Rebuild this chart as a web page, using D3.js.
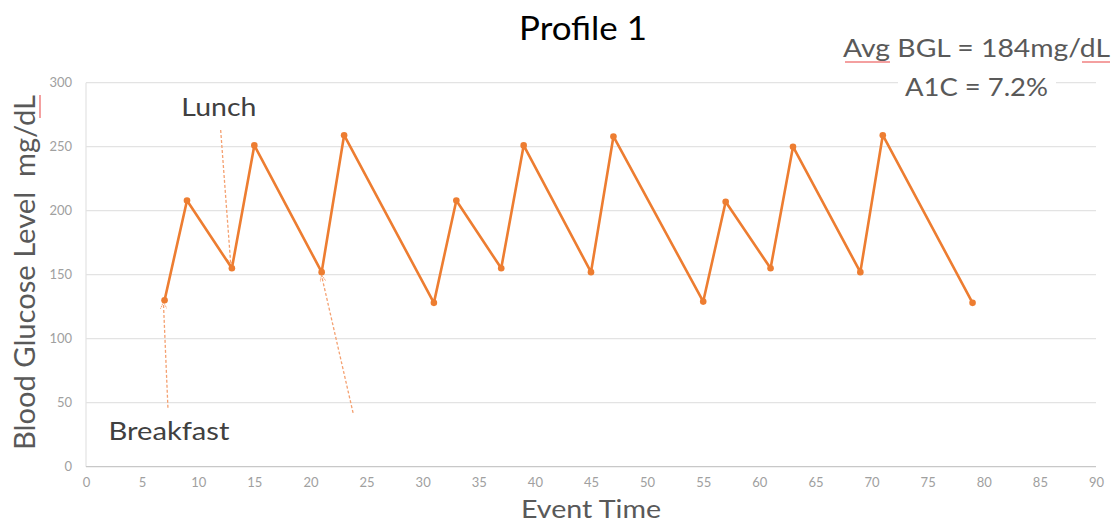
<!DOCTYPE html>
<html><head><meta charset="utf-8">
<script src="https://cdn.jsdelivr.net/npm/d3@7"></script>
<style>body{margin:0;background:#fff}svg{display:block}text{font-family:Lato,"Open Sans",sans-serif}</style>
</head><body><svg id="c" width="1115" height="522"></svg>
<script>
const eventTimes = [7,9,13,15,21,23,31,33,37,39,45,47,55,57,61,63,69,71,79];
const glucose = [130,208,155,251,152,259,128,208,155,251,152,258,129,207,155,250,152,259,128];
const xTicks = d3.range(0,91,5);
const yTicks = [0,50,100,150,200,250,300];
const title = "Profile 1";
const stats = ["Avg BGL = 184mg/dL","A1C = 7.2%"];
// annotation arrows: [fromX, fromY, toX, toY] in data units
const arrows = [[7.3,46,6.9,128],[12.0,263,12.9,158],[23.8,42,21.0,149]];
const labels = [{text:"Lunch",x:8.5,y:274,w:75},{text:"Breakfast",x:2,y:21,w:121}];

const svg = d3.select("#c");
const x = d3.scaleLinear().domain([0,90]).range([86,1096]);
const y = d3.scaleLinear().domain([0,300]).range([466.7,82.7]);

// grid
svg.append("g").selectAll("line").data(yTicks.slice(1)).join("line")
  .attr("x1",x(0)).attr("x2",x(90)).attr("y1",d=>y(d)).attr("y2",d=>y(d))
  .attr("stroke","#e3e3e3").attr("stroke-width",1.2);
svg.append("line").attr("x1",x(0)).attr("x2",x(0)).attr("y1",y(0)).attr("y2",y(300))
  .attr("stroke","#e3e3e3").attr("stroke-width",1.2);
svg.append("line").attr("x1",x(0)).attr("x2",x(90)).attr("y1",y(0)).attr("y2",y(0))
  .attr("stroke","#c8c8c8").attr("stroke-width",1.3);

// axes
const yAxis = d3.axisLeft(y).tickValues(yTicks).tickSize(0).tickPadding(14);
const gy = svg.append("g").attr("transform",`translate(${x(0)},0)`).call(yAxis);
gy.select(".domain").remove();
gy.selectAll("text").attr("fill","#a0a0a0").style("font-size","13px").style("font-family","Lato,sans-serif");
const xAxis = d3.axisBottom(x).tickValues(xTicks).tickSize(0).tickPadding(11);
const gx = svg.append("g").attr("transform",`translate(0,${y(0)})`).call(xAxis);
gx.select(".domain").remove();
gx.selectAll("text").attr("fill","#a0a0a0").style("font-size","13px").style("font-family","Lato,sans-serif");

// axis titles
svg.append("text").attr("x",591).attr("y",518).attr("text-anchor","middle")
  .attr("fill","#595959").style("font-size","25px")
  .attr("textLength",140).attr("lengthAdjust","spacingAndGlyphs").text("Event Time");
svg.append("text").attr("transform","translate(35,272.5) rotate(-90)").attr("text-anchor","middle")
  .attr("fill","#595959").style("font-size","29px")
  .attr("textLength",355).attr("lengthAdjust","spacingAndGlyphs").text("Blood Glucose Level\u00a0\u00a0mg/dL");
// spellcheck squiggle under dL (y axis)
svg.append("line").attr("x1",40).attr("x2",40).attr("y1",95).attr("y2",118).attr("stroke","#f08080").attr("stroke-width",1.5);

// annotation arrows
const defs = svg.append("defs");
defs.append("marker").attr("id","ah").attr("viewBox","0 0 10 10").attr("refX",9).attr("refY",5)
  .attr("markerWidth",5).attr("markerHeight",5).attr("orient","auto")
  .append("path").attr("d","M0,0L10,5L0,10").attr("fill","none").attr("stroke","#f4a070").attr("stroke-width",1.5).attr("stroke-dasharray","2,1");
svg.append("g").selectAll("line").data(arrows).join("line")
  .attr("x1",d=>x(d[0])).attr("y1",d=>y(d[1])).attr("x2",d=>x(d[2])).attr("y2",d=>y(d[3]))
  .attr("stroke","#f4a070").attr("stroke-width",1.3).attr("stroke-dasharray","3,2")
  .attr("marker-end","url(#ah)");

// line
svg.append("path").datum(eventTimes.map((t,i)=>[t,glucose[i]]))
  .attr("d",d3.line().x(d=>x(d[0])).y(d=>y(d[1])))
  .attr("fill","none").attr("stroke","#ed7d31").attr("stroke-width",2.6).attr("stroke-linejoin","round");
svg.append("g").selectAll("circle").data(eventTimes).join("circle")
  .attr("cx",d=>x(d)).attr("cy",(d,i)=>y(glucose[i])).attr("r",3.3).attr("fill","#ed7d31");

// labels
svg.append("g").selectAll("text").data(labels).join("text")
  .attr("x",d=>x(d.x)).attr("y",d=>y(d.y)).attr("fill","#404040").style("font-size","25px")
  .attr("textLength",d=>d.w).attr("lengthAdjust","spacingAndGlyphs").text(d=>d.text);

// title
svg.append("text").attr("x",583).attr("y",40).attr("text-anchor","middle")
  .attr("fill","#000").style("font-size","32px")
  .attr("textLength",128).attr("lengthAdjust","spacingAndGlyphs").text(title);

// stats box
svg.append("rect").attr("x",898).attr("y",72).attr("width",158).attr("height",30).attr("fill","#fff");
svg.append("text").attr("x",976.5).attr("y",57).attr("text-anchor","middle").attr("fill","#595959").style("font-size","25px")
  .attr("textLength",267).attr("lengthAdjust","spacingAndGlyphs").text(stats[0]);
svg.append("text").attr("x",976.5).attr("y",96).attr("text-anchor","middle").attr("fill","#595959").style("font-size","25px")
  .attr("textLength",143).attr("lengthAdjust","spacingAndGlyphs").text(stats[1]);
// squiggles under "Avg" and "dL"
svg.append("line").attr("x1",845).attr("x2",890).attr("y1",62).attr("y2",62).attr("stroke","#f08080").attr("stroke-width",1.5);
svg.append("line").attr("x1",1082).attr("x2",1110).attr("y1",62).attr("y2",62).attr("stroke","#f08080").attr("stroke-width",1.5);
</script></body></html>
